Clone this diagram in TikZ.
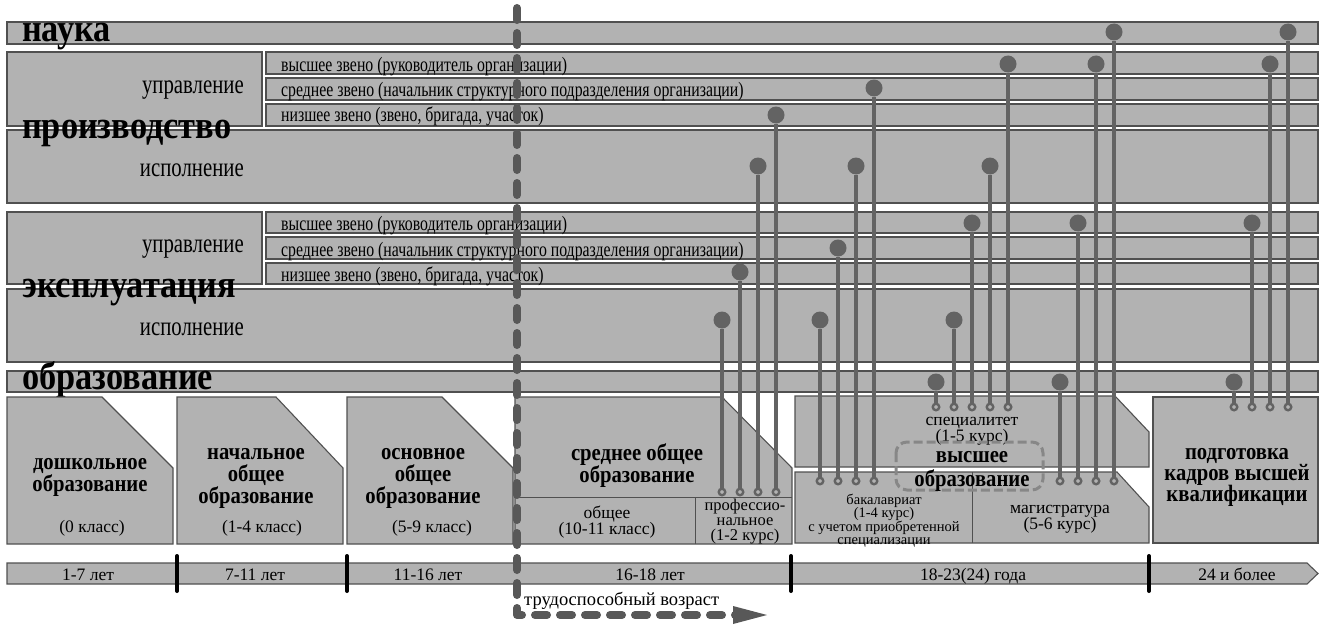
\documentclass[tikz,border=0pt]{standalone}
\usepackage{fontspec}
\setmainfont{Liberation Serif}
\newfontfamily\tallfont{Liberation Serif}[FakeStretch=0.77]
\newfontfamily\titlefont{Liberation Serif}[FakeStretch=0.88]
\usetikzlibrary{arrows.meta}
\definecolor{boxfill}{HTML}{B2B2B2}
\definecolor{boxline}{HTML}{505050}
\definecolor{conn}{HTML}{636363}
\definecolor{dashc}{HTML}{585858}
\definecolor{voc}{HTML}{878787}
\newcommand\mlines[1]{\begin{tabular}[t]{@{}c@{}}#1\end{tabular}}
\tikzset{
  band/.style={fill=boxfill, draw=boxline, line width=1.3pt},
  edubox/.style={fill=boxfill, draw=boxline, line width=1.1pt},
  inner/.style={draw=boxline, line width=1pt},
  dot/.style={circle, fill=conn, inner sep=0pt, minimum size=17pt},
  ring/.style={circle, draw=conn, fill=boxfill, line width=2.4pt, inner sep=0pt, minimum size=6.5pt},
  link/.style={draw=conn, line width=3.2pt},
  tick/.style={draw=black, line width=4pt, line cap=round},
  bigtitle/.style={inner sep=0pt, anchor=base west, font=\titlefont\bfseries\fontsize{39}{39}\selectfont},
  sublabel/.style={inner sep=0pt, anchor=base west, font=\tallfont\fontsize{20.5}{20.5}\selectfont},
  rolelabel/.style={inner sep=0pt, anchor=base east, font=\tallfont\fontsize{27}{27}\selectfont},
  edutitle/.style={inner sep=0pt, anchor=base, font=\titlefont\bfseries\fontsize{23.5}{18}\selectfont},
  edutext/.style={inner sep=0pt, anchor=base, font=\fontsize{17.5}{15}\selectfont},
  smalltext/.style={inner sep=0pt, anchor=base, font=\fontsize{14.5}{12.3}\selectfont},
  agetext/.style={inner sep=0pt, anchor=base, font=\fontsize{17.5}{17.5}\selectfont},
  workline/.style={draw=dashc, line width=8pt, line cap=round, line join=round, dash pattern=on 12pt off 13pt},
  vobox/.style={draw=voc, line width=3pt, dash pattern=on 9pt off 4pt, rounded corners=11pt}
}
\begin{document}
\begin{tikzpicture}[x=1pt,y=-1pt]
\useasboundingbox (0,0) rectangle (1319,626);
% ---------- rows ----------
\draw[band] (7,22) rectangle (1318,44);
% production
\draw[band] (7,52) rectangle (262,126);
\draw[band] (266,52) rectangle (1318,74);
\draw[band] (266,78) rectangle (1318,100);
\draw[band] (266,104) rectangle (1318,126);
\draw[band] (7,130) rectangle (1318,203);
% exploitation
\draw[band] (7,212) rectangle (262,284);
\draw[band] (266,212) rectangle (1318,233);
\draw[band] (266,237) rectangle (1318,259);
\draw[band] (266,263) rectangle (1318,284);
\draw[band] (7,289) rectangle (1318,362);
% education
\draw[band] (7,371) rectangle (1318,392);
% ---------- row labels ----------
\node[sublabel] (pv) at (281,71) {высшее звено (руководитель организации)};
\node[sublabel] (ps) at (281,96) {среднее звено (начальник структурного подразделения организации)};
\node[sublabel] (pn) at (281,121) {низшее звено (звено, бригада, участок)};
\node[sublabel] (ev) at (281,230) {высшее звено (руководитель организации)};
\node[sublabel] (es) at (281,256) {среднее звено (начальник структурного подразделения организации)};
\node[sublabel] (en) at (281,281) {низшее звено (звено, бригада, участок)};
\node[rolelabel] (pu) at (244,93) {управление};
\node[rolelabel] (pi) at (244,176) {исполнение};
\node[rolelabel] (eu) at (244,252) {управление};
\node[rolelabel] (ei) at (244,335) {исполнение};
\node[bigtitle] (tn) at (22,42) {наука};
\node[bigtitle] (tp) at (22,138) {производство};
\node[bigtitle] (te) at (22,297) {эксплуатация};
\node[bigtitle] (to) at (22,389) {образование};
% ---------- education boxes ----------
\draw[edubox] (7,397) -- (102,397) -- (173,468) -- (173,544) -- (7,544) -- cycle;
\draw[edubox] (177,397) -- (276,397) -- (343,468) -- (343,544) -- (177,544) -- cycle;
\draw[edubox] (347,397) -- (442,397) -- (513,468) -- (513,544) -- (347,544) -- cycle;
\draw[edubox] (515,397) -- (722,397) -- (792,468) -- (792,544) -- (515,544) -- cycle;
\draw[inner] (515,497) -- (792,497);
\draw[inner] (695,497) -- (695,544);
\draw[edubox] (795,396) -- (1115,396) -- (1149,432) -- (1149,467) -- (795,467) -- cycle;
\draw[edubox] (795,472) -- (1117,472) -- (1149,507) -- (1149,543) -- (795,543) -- cycle;
\draw[inner] (972,472) -- (972,543);
\draw[edubox] (1153,397) rectangle (1318,543);
% education texts
\node[edutitle] (e1) at (90,469) {\mlines{дошкольное\\образование}};
\node[edutext] (e1c) at (92,532) {(0 класс)};
\node[edutitle] (e2) at (256,459) {\mlines{начальное\\общее\\образование}};
\node[edutext] (e2c) at (262,532) {(1-4 класс)};
\node[edutitle] (e3) at (423,459) {\mlines{основное\\общее\\образование}};
\node[edutext] (e3c) at (432,532) {(5-9 класс)};
\node[edutitle] (e4) at (637,460) {\mlines{среднее общее\\образование}};
\node[edutext] (e4a) at (607,518) {\mlines{общее\\(10-11 класс)}};
\node[edutext, font=\fontsize{16.5}{15}\selectfont] (e4b) at (745,510) {\mlines{профессио-\\нальное\\(1-2 курс)}};
\node[edutext, font=\fontsize{17.5}{16}\selectfont] (e5) at (972,425) {\mlines{специалитет\\(1-5 курс)}};
\node[smalltext] (e6) at (884,504) {\mlines{бакалавриат\\(1-4 курс)\\с учетом приобретенной\\специализации}};
\node[edutext] (e7) at (1060,513) {\mlines{магистратура\\(5-6 курс)}};
\node[edutitle, font=\titlefont\bfseries\fontsize{23.5}{17}\selectfont] (e8) at (1237,459) {\mlines{подготовка\\кадров высшей\\квалификации}};
\draw[vobox] (896,442) rectangle (1043,490);
\node[edutitle, font=\titlefont\bfseries\fontsize{23.5}{24}\selectfont] (vo) at (972,462) {\mlines{высшее\\образование}};
% ---------- age bar ----------
\draw[edubox] (7,563) -- (1307,563) -- (1318,573.5) -- (1307,584) -- (7,584) -- cycle;
\foreach \x in {177,347,791,1149} \draw[tick] (\x,556) -- (\x,591);
\node[agetext] (a1) at (88,580) {1-7 лет};
\node[agetext] (a2) at (255,580) {7-11 лет};
\node[agetext] (a3) at (428,580) {11-16 лет};
\node[agetext] (a4) at (650,580) {16-18 лет};
\node[agetext] (a5) at (973,580) {18-23(24) года};
\node[agetext] (a6) at (1237,580) {24 и более};
% ---------- connectors ----------
\foreach \n/\x/\y in {p1/722/492,p2/740/492,p3/758/492,p4/776/492,
  b1/820/481,b2/838/481,b3/856/481,b4/874/481,
  s1/936/407,s2/954/407,s3/972/407,s4/990/407,s5/1008/407,
  m1/1060/481,m2/1078/481,m3/1096/481,m4/1114/481,
  k1/1234/407,k2/1252/407,k3/1270/407,k4/1288/407}
  \node[ring] (r\n) at (\x,\y) {};
\foreach \n/\x/\y in {p1/722/320,p2/740/272,p3/758/166,p4/776/115,
  b1/820/320,b2/838/248,b3/856/166,b4/874/88,
  s1/936/382,s2/954/320,s3/972/223,s4/990/166,s5/1008/64,
  m1/1060/382,m2/1078/223,m3/1096/64,m4/1114/32,
  k1/1234/382,k2/1252/223,k3/1270/64,k4/1288/32}
  \node[dot] (d\n) at (\x,\y) {};
\foreach \n in {p1,p2,p3,p4,b1,b2,b3,b4,s1,s2,s3,s4,s5,m1,m2,m3,m4,k1,k2,k3,k4}
  \draw[link] (r\n) -- (d\n);
% ---------- working age ----------
\coordinate (wtop) at (517,8);
\coordinate (wcorner) at (517,615);
\coordinate (wend) at (767,615);
\draw[workline] (wtop) -- (wcorner) -- ([xshift=-30pt]wend);
\fill[dashc] (wend) -- ++(-34,-9) -- ++(0,18) -- cycle;
\node[agetext, font=\fontsize{18.5}{18.5}\selectfont, anchor=base west] (wl) at (524,605) {трудоспособный возраст};
\end{tikzpicture}
\end{document}
